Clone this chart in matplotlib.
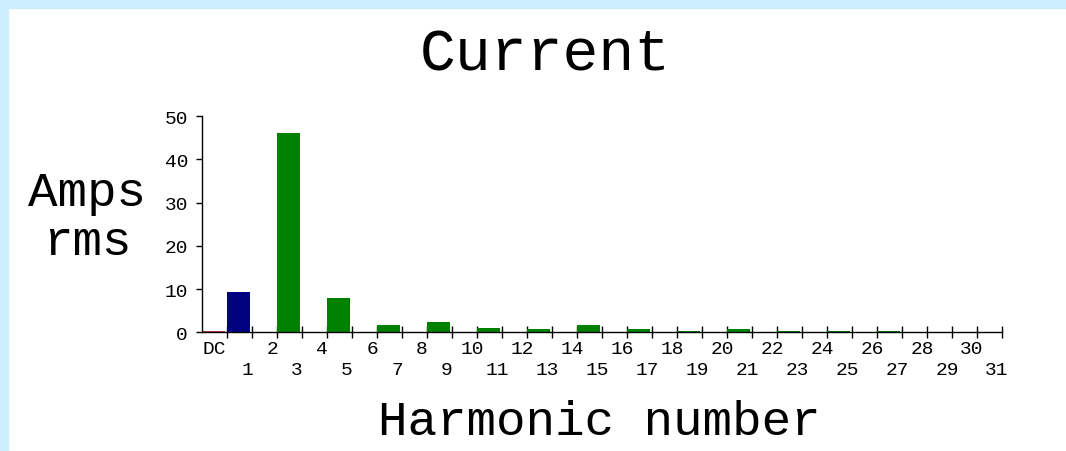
import matplotlib
matplotlib.use("Agg")
import matplotlib.pyplot as plt
from matplotlib.patches import Rectangle

# harmonic amplitudes (Amps rms), DC first then harmonics 1..31
labels = ["DC"] + [str(k) for k in range(1, 32)]
amps = [0.3, 9.3, 0.0, 46.1, 0.0, 8.0, 0.0, 1.7, 0.0, 2.3,
        0.0, 1.0, 0.0, 0.7, 0.0, 1.7, 0.0, 0.7, 0.0, 0.3,
        0.0, 0.8, 0.0, 0.4, 0.0, 0.2, 0.0, 0.4, 0.0, 0.1,
        0.0, 0.1]
colors = ["#c04040", "#000080"] + ["#008000"] * 30

W, H = 1066, 452
fig = plt.figure(figsize=(W / 100, H / 100), dpi=100)
fig.patch.set_facecolor("white")

# light blue frame on top and left
band = "#cceeff"
fig.patches.append(Rectangle((0, 1 - 9 / H), 1, 9 / H, transform=fig.transFigure,
                             color=band, zorder=0))
fig.patches.append(Rectangle((0, 0), 8 / W, 1, transform=fig.transFigure,
                             color=band, zorder=0))

mono = "Liberation Mono"
ax = fig.add_axes([202 / W, 1 - 333.3 / H, 800 / W, 216.3 / H])
ax.patch.set_alpha(0)

xs = list(range(len(amps)))
ax.bar(xs, amps, width=0.92, align="edge", color=colors, zorder=2)

ax.set_xlim(0, 32)
ax.set_ylim(0, 50)
for s in ["top", "right"]:
    ax.spines[s].set_visible(False)
ax.spines["left"].set_linewidth(1)
ax.spines["bottom"].set_linewidth(1)

ax.set_yticks([0, 10, 20, 30, 40, 50])
ax.tick_params(axis="y", direction="out", length=4, width=1, pad=6,
               labelsize=14)
for t in ax.get_yticklabels():
    t.set_family(mono)

ax.set_xticks(range(1, 33))
ax.set_xticklabels([])
ax.tick_params(axis="x", direction="inout", length=8, width=1)

for i, lab in enumerate(labels):
    x = 0.48 if i == 0 else i + 0.8
    dy = -16 if i % 2 == 0 else -37
    ax.annotate(lab, xy=(x, 0), xycoords=("data", "axes fraction"),
                xytext=(0, dy * 0.72), textcoords="offset points",
                ha="center", va="center", fontsize=14, family=mono)

fig.text(545 / W, 1 - 55 / H, "Current", ha="center", va="center",
         fontsize=43, family=mono)
fig.text(599 / W, 1 - 423 / H, "Harmonic number", ha="center", va="center",
         fontsize=35.5, family=mono)
fig.text(87 / W, 1 - 193 / H, "Amps", ha="center", va="center",
         fontsize=35.5, family=mono)
fig.text(87 / W, 1 - 243 / H, "rms", ha="center", va="center",
         fontsize=35.5, family=mono)

fig.savefig("out.png", dpi=100)
